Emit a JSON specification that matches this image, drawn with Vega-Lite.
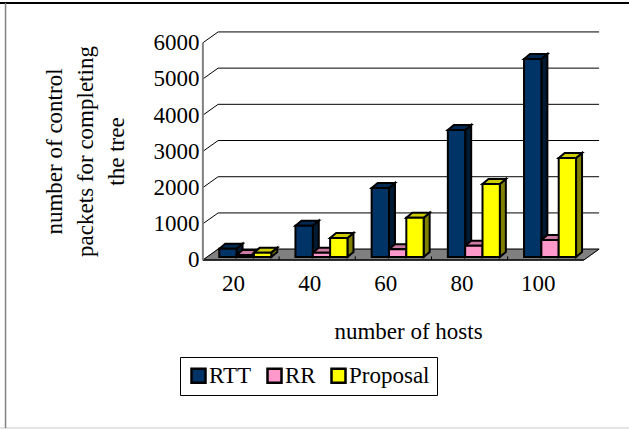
{"$schema":"https://vega.github.io/schema/vega-lite/v6.json","width":629,"height":429,"padding":0,"autosize":{"type":"none"},"background":"white","config":{"view":{"stroke":null},"font":"Liberation Serif"},"data":{"values":[{"hosts":20,"series":"RTT","packets":230},{"hosts":20,"series":"RR","packets":55},{"hosts":20,"series":"Proposal","packets":120},{"hosts":40,"series":"RTT","packets":865},{"hosts":40,"series":"RR","packets":119},{"hosts":40,"series":"Proposal","packets":525},{"hosts":60,"series":"RTT","packets":1906},{"hosts":60,"series":"RR","packets":213},{"hosts":60,"series":"Proposal","packets":1085},{"hosts":80,"series":"RTT","packets":3510},{"hosts":80,"series":"RR","packets":312},{"hosts":80,"series":"Proposal","packets":2016},{"hosts":100,"series":"RTT","packets":5470},{"hosts":100,"series":"RR","packets":470},{"hosts":100,"series":"Proposal","packets":2735}]},"transform":[{"calculate":"indexof(['RTT','RR','Proposal'],datum.series)","as":"i"},{"calculate":"datum.hosts-5.7+datum.i*4.55","as":"x0"},{"calculate":"datum.x0+4.55","as":"x1"},{"calculate":"datum.packets+83","as":"t"},{"calculate":"[0,1]","as":"k"},{"flatten":["k"]},{"calculate":"datum.x1+datum.k*1.575","as":"sx"},{"calculate":"83+datum.k*138","as":"sb"},{"calculate":"datum.t+datum.k*138","as":"st"},{"calculate":"datum.x0+datum.k*1.575","as":"tx0"}],"layer":[{"data":{"values":[{"k":0,"fx0":10,"fx1":110,"fy":0},{"k":1,"fx0":14,"fx1":114,"fy":300}]},"transform":[],"mark":{"type":"area","orient":"horizontal","fill":"#808080","stroke":"#808080","strokeWidth":1},"encoding":{"x":{"field":"fx0","type":"quantitative","title":null,"scale":{"domain":[-43.25,121.85],"range":[0,629],"nice":false,"zero":false},"axis":{"orient":"bottom","offset":-169,"values":[20,40,60,80,100],"format":"d","domain":false,"ticks":false,"grid":false,"labelFont":"Liberation Serif","labelFontSize":23,"labelColor":"#000","labelPadding":12,"labelOffset":-8,"title":"number of hosts","titleFont":"Liberation Serif","titleFontSize":23,"titleFontWeight":"normal","titleColor":"#000","titleX":408,"titleY":60}},"x2":{"field":"fx1"},"y":{"field":"fy","type":"quantitative","title":null,"scale":{"domain":[-4669,7182],"range":[429,0],"nice":false,"zero":false},"axis":{"orient":"left","offset":-203,"values":[0,1000,2000,3000,4000,5000,6000],"format":"d","domain":false,"ticks":false,"grid":false,"labelFont":"Liberation Serif","labelFontSize":23,"labelColor":"#000","labelPadding":4,"title":["number of control","packets for completing","the tree"],"titleFont":"Liberation Serif","titleFontSize":23,"titleFontWeight":"normal","titleColor":"#000","titleAngle":-90,"titleLineHeight":31,"titleAlign":"center","titleBaseline":"middle","titleX":-149,"titleY":151}}}},{"data":{"values":[{"v":0},{"v":1000},{"v":2000},{"v":3000},{"v":4000},{"v":5000},{"v":6000}]},"transform":[{"calculate":"datum.v+300","as":"b"},{"calculate":"14","as":"a0"},{"calculate":"114","as":"a1"}],"mark":{"type":"rule","stroke":"#000","strokeWidth":1},"encoding":{"x":{"field":"a0","type":"quantitative"},"x2":{"field":"a1"},"y":{"field":"b","type":"quantitative"}}},{"data":{"values":[{"v":0},{"v":1000},{"v":2000},{"v":3000},{"v":4000},{"v":5000},{"v":6000}]},"transform":[{"calculate":"datum.v+300","as":"b"},{"calculate":"10","as":"a0"},{"calculate":"14","as":"a1"}],"mark":{"type":"rule","stroke":"#000","strokeWidth":1},"encoding":{"x":{"field":"a0","type":"quantitative"},"x2":{"field":"a1"},"y":{"field":"v","type":"quantitative"},"y2":{"field":"b"}}},{"data":{"values":[{"a":110,"b":114,"c":0,"d":300}]},"mark":{"type":"rule","stroke":"#000","strokeWidth":1},"encoding":{"x":{"field":"a","type":"quantitative"},"x2":{"field":"b"},"y":{"field":"c","type":"quantitative"},"y2":{"field":"d"}}},{"data":{"values":[{"a":10,"b":110,"c":0}]},"mark":{"type":"rule","stroke":"#000","strokeWidth":1.5},"encoding":{"x":{"field":"a","type":"quantitative"},"x2":{"field":"b"},"y":{"field":"c","type":"quantitative"}}},{"data":{"values":[{"a":10,"c":0,"d":6000}]},"mark":{"type":"rule","stroke":"#808080","strokeWidth":2},"encoding":{"x":{"field":"a","type":"quantitative"},"y":{"field":"c","type":"quantitative"},"y2":{"field":"d"}}},{"data":{"values":[{"h":30,"c":0,"d":100},{"h":50,"c":0,"d":100},{"h":70,"c":0,"d":100},{"h":90,"c":0,"d":100}]},"mark":{"type":"rule","stroke":"#000","strokeWidth":1},"encoding":{"x":{"field":"h","type":"quantitative"},"y":{"field":"c","type":"quantitative"},"y2":{"field":"d"}}},{"mark":{"type":"area","stroke":"#000","strokeWidth":2},"encoding":{"x":{"field":"sx","type":"quantitative"},"y":{"field":"sb","type":"quantitative"},"y2":{"field":"st"},"detail":{"field":"hosts"},"fill":{"field":"series","type":"nominal","legend":null,"scale":{"domain":["RTT","RR","Proposal"],"range":["#001a33","#804d66","#808000"]}}}},{"mark":{"type":"area","orient":"horizontal","stroke":"#000","strokeWidth":2},"encoding":{"x":{"field":"tx0","type":"quantitative"},"x2":{"field":"sx"},"y":{"field":"st","type":"quantitative"},"detail":{"field":"hosts"},"fill":{"field":"series","type":"nominal","legend":null,"scale":{"domain":["RTT","RR","Proposal"],"range":["#002952","#cc7aa3","#cccc00"]}}}},{"transform":[{"filter":"datum.k==0"}],"mark":{"type":"rect","stroke":"#000","strokeWidth":2},"encoding":{"x":{"field":"x0","type":"quantitative"},"x2":{"field":"x1"},"y":{"field":"t","type":"quantitative"},"y2":{"datum":83},"fill":{"field":"series","type":"nominal","scale":{"domain":["RTT","RR","Proposal"],"range":["#003366","#ff99cc","#ffff00"]},"legend":{"title":null,"orient":"none","legendX":180,"legendY":357,"direction":"horizontal","columns":3,"fillColor":"#fff","strokeColor":"#000","padding":7,"symbolType":"square","symbolSize":196,"symbolStrokeColor":"#000","symbolStrokeWidth":2.5,"labelFont":"Liberation Serif","labelFontSize":23,"labelColor":"#000","labelOffset":-1,"columnPadding":10}}}},{"data":{"values":[{"p":7099}]},"mark":{"type":"rule","stroke":"#000","strokeWidth":2},"encoding":{"y":{"field":"p","type":"quantitative"}}},{"data":{"values":[{"p":-4641}]},"mark":{"type":"rule","stroke":"#ddd","strokeWidth":1.5},"encoding":{"y":{"field":"p","type":"quantitative"}}},{"data":{"values":[{"p":-41.8,"a":-4641,"b":7099}]},"mark":{"type":"rule","stroke":"#808080","strokeWidth":1.5},"encoding":{"x":{"field":"p","type":"quantitative"},"y":{"field":"a","type":"quantitative"},"y2":{"field":"b"}}}],"resolve":{"scale":{"fill":"independent"}}}
